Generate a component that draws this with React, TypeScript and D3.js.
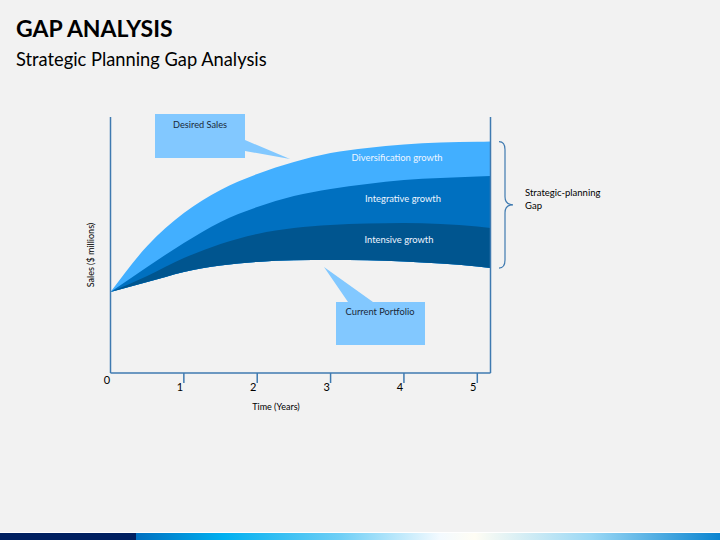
import React from 'react';
import * as d3 from 'd3';

// values (sales in arbitrary units, 0-100 on the y axis)
const years = [0, 0.5, 1, 1.5, 2, 2.5, 3, 3.5, 4, 4.5, 5, 5.18];
const desiredSales = [31.6, 49.6, 62.5, 71.5, 77.7, 82.4, 85.9, 87.9, 89.3, 90.0, 90.3, 90.4];
const integrativeTop = [31.6, 41.4, 50.8, 59.0, 64.8, 69.1, 71.9, 73.8, 75.4, 76.2, 76.8, 77.0];
const intensiveTop = [31.6, 37.9, 44.9, 50.4, 54.3, 56.6, 57.8, 58.4, 58.6, 58.2, 57.2, 56.6];
const currentPortfolio = [31.6, 35.5, 39.5, 42.0, 43.4, 44.0, 44.1, 44.0, 43.6, 42.8, 41.6, 41.0];

const tickYears = [1, 2, 3, 4, 5];
const bandNames = ['Diversification growth', 'Integrative growth', 'Intensive growth'];
const bandColors = ['#42AFFF', '#0070C0', '#00558F'];

const FONT = 'Lato, "Open Sans", sans-serif';
const AXIS = '#3F7AB0';

export default function App() {
    const x = d3.scaleLinear().domain([0, 5.18]).range([110.5, 490.5]);
    const y = d3.scaleLinear().domain([0, 100]).range([373, 117]);

    const tops = [desiredSales, integrativeTop, intensiveTop];
    const areas = tops.map(top => {
        const rows = years.map((yr, i) => ({yr, hi: top[i], lo: currentPortfolio[i]}));
        return d3.area<any>()
            .x(d => x(d.yr))
            .y0(d => y(d.lo))
            .y1(d => y(d.hi))
            .curve(d3.curveMonotoneX)(rows);
    });

    // label positions: middle of each band near year 3.9
    const labelX = [397, 403, 399];
    const labelY = [157, 198, 239];

    const yTop = y(desiredSales[desiredSales.length - 1]);
    const yBot = y(currentPortfolio[currentPortfolio.length - 1]);
    const yMid = (yTop + yBot) / 2;
    const bx = 505;
    const brace = `M ${bx - 6} ${yTop} Q ${bx} ${yTop} ${bx} ${yTop + 8} L ${bx} ${yMid - 8} Q ${bx} ${yMid} ${bx + 8} ${yMid} Q ${bx} ${yMid} ${bx} ${yMid + 8} L ${bx} ${yBot - 8} Q ${bx} ${yBot} ${bx - 6} ${yBot}`;

    return (
        <svg width={720} height={540} style={{position: 'fixed', left: 0, top: 0}} fontFamily={FONT}>
            <defs>
                <linearGradient id="footer" x1="0" x2="1" y1="0" y2="0">
                    <stop offset="0" stopColor="#0070C0"/>
                    <stop offset="0.15" stopColor="#00B0F0"/>
                    <stop offset="0.35" stopColor="#6FCFF6"/>
                    <stop offset="0.52" stopColor="#F3FAFF"/>
                    <stop offset="0.58" stopColor="#FFFDF4"/>
                    <stop offset="0.78" stopColor="#9AD8F5"/>
                    <stop offset="1" stopColor="#0A84D0"/>
                </linearGradient>
            </defs>
            <rect width={720} height={540} fill="#F2F2F2"/>

            <text x={16} y={37} fontSize={23} fontWeight="bold" fill="#000">GAP ANALYSIS</text>
            <text x={16} y={66} fontSize={18.3} fill="#000">Strategic Planning Gap Analysis</text>

            {areas.map((d, i) => <path key={i} d={d as string} fill={bandColors[i]}/>)}
            {bandNames.map((n, i) =>
                <text key={n} x={labelX[i]} y={labelY[i] + 4} fontSize={9.4} fill="#EEF6FF" textAnchor="middle">{n}</text>
            )}

            {/* frame */}
            <line x1={x(0)} x2={x(0)} y1={y(100)} y2={y(0)} stroke={AXIS} strokeWidth={1.5}/>
            <line x1={x(5.18)} x2={x(5.18)} y1={y(100)} y2={y(0)} stroke={AXIS} strokeWidth={1.5}/>
            <line x1={x(0)} x2={x(5.18)} y1={y(0)} y2={y(0)} stroke={AXIS} strokeWidth={1.5}/>
            {tickYears.map(t =>
                <g key={t}>
                    <line x1={x(t)} x2={x(t)} y1={y(0)} y2={y(0) + 10} stroke={AXIS} strokeWidth={1.5}/>
                    <text x={x(t) - 4} y={391} fontSize={11} textAnchor="middle" fill="#000">{t}</text>
                </g>
            )}
            <text x={107} y={384} fontSize={11} textAnchor="middle" fill="#000">0</text>
            <text x={276} y={410} fontSize={9} textAnchor="middle" fill="#000">Time (Years)</text>
            <text transform="translate(94,255) rotate(-90)" fontSize={9} textAnchor="middle" fill="#000">Sales ($ millions)</text>

            {/* callouts */}
            <path d="M155 114 H245 V140 L290 159 L245 151 V158 H155 Z" fill="#82C8FF"/>
            <text x={200} y={128} fontSize={9.2} textAnchor="middle" fill="#1A2A3A">Desired Sales</text>
            <path d="M336 302 H348 L324 267 L373 302 H425 V345 H336 Z" fill="#82C8FF"/>
            <text x={380} y={315} fontSize={9.3} textAnchor="middle" fill="#1A2A3A">Current Portfolio</text>

            {/* gap brace */}
            <path d={brace} fill="none" stroke={AXIS} strokeWidth={1.2}/>
            <text x={525} y={196} fontSize={9.5} fill="#000">Strategic-planning</text>
            <text x={525} y={209} fontSize={9.5} fill="#000">Gap</text>

            {/* footer strip */}
            <rect x={0} y={532} width={720} height={1} fill="#FFFFFF"/>
            <rect x={0} y={533} width={136} height={7} fill="#002060"/>
            <rect x={136} y={533} width={584} height={7} fill="url(#footer)"/>
        </svg>
    );
}
